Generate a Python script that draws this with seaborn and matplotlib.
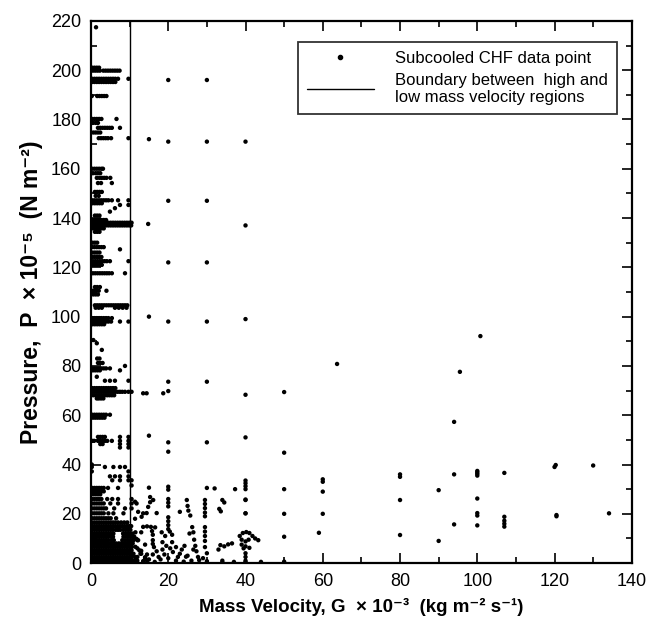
import matplotlib
matplotlib.use('Agg')
import matplotlib.pyplot as plt
import seaborn as sns
import pandas as pd
from matplotlib.lines import Line2D
from matplotlib.ticker import MultipleLocator

sns.set_theme(style='ticks')
plt.rcParams['font.family'] = ['Liberation Sans', 'DejaVu Sans']
plt.rcParams['text.color'] = 'black'
plt.rcParams['axes.labelcolor'] = 'black'

# low mass velocity strip, read row by row: (pressure, [mass velocities])
low_g_rows = [
    (217.4, [1.3]),
    (201.0, [0.3, 0.9, 1.5, 2.1]),
    (199.8, [0.5, 1.1, 1.7, 2.3, 3.2, 3.8, 4.4, 5.0, 5.6, 6.2, 6.8, 7.4]),
    (196.5, [0.3, 0.9, 1.5, 2.1, 2.7, 3.3, 3.9, 4.5, 5.1, 5.7, 6.3, 7.0, 9.7]),
    (195.2, [0.3, 0.9, 1.5, 2.1, 2.7, 3.3, 3.9, 4.5, 5.1, 5.7, 6.3]),
    (189.5, [0.2, 1.6, 2.2, 2.8, 3.4, 4.0]),
    (180.2, [0.3, 0.9, 1.5, 2.1, 2.7, 6.6]),
    (178.6, [0.5, 1.2, 1.8]),
    (176.6, [1.8, 2.4, 3.0, 3.6, 4.2, 4.8, 5.4, 7.5]),
    (174.7, [0.6, 1.2, 1.8, 2.4]),
    (172.4, [2.0, 2.6, 3.2, 3.8, 4.4, 5.2, 9.7]),
    (160.0, [0.3, 0.9, 1.5, 2.1, 2.7, 3.1]),
    (158.2, [0.5, 1.2, 1.8, 2.4]),
    (156.3, [1.5, 2.2, 2.8, 3.4, 4.0, 5.0]),
    (154.2, [1.8, 2.6, 5.4]),
    (150.6, [1.0, 1.6, 2.2, 2.8]),
    (149.0, [1.2, 2.0]),
    (147.2, [0.3, 0.9, 1.5, 2.1, 2.7, 3.3, 3.9, 4.5, 5.4, 7.0, 9.7]),
    (146.0, [0.4, 1.0, 1.6, 2.2, 2.8]),
    (145.3, [7.5, 9.7]),
    (144.0, [6.2]),
    (142.6, [4.9]),
    (141.0, [1.0, 1.6, 2.2]),
    (139.2, [0.3, 0.9, 1.5, 2.1, 2.7, 3.3, 3.9]),
    (138.1, [0.3, 0.9, 1.5, 2.1, 2.7, 3.3, 3.9, 4.5, 5.1, 5.7, 6.3, 6.9, 7.5, 8.1, 8.7, 9.3, 9.9, 10.5]),
    (137.0, [0.3, 0.9, 1.5, 2.1, 2.7, 3.3, 3.9, 4.5, 5.1, 5.7, 6.3, 6.9, 7.5, 8.1, 8.7, 9.3, 9.9, 10.4]),
    (135.8, [0.3, 0.9, 1.5, 2.1, 2.7, 3.3]),
    (134.4, [1.0, 1.6, 2.2]),
    (130.0, [0.4, 1.0, 1.6]),
    (128.2, [0.3, 0.9, 1.5, 2.1, 2.7, 3.3]),
    (127.3, [7.5]),
    (126.0, [0.4, 1.0, 1.6, 2.2]),
    (124.2, [0.3, 0.9, 1.5, 2.1, 2.7]),
    (122.5, [0.5, 1.1, 1.7, 2.3, 2.9, 3.5, 4.1, 4.9, 9.7]),
    (121.0, [0.4, 1.0, 1.6, 2.2, 2.8]),
    (117.6, [0.5, 1.1, 1.7, 2.3, 2.9, 3.5, 4.1, 4.7, 5.4, 8.8]),
    (112.0, [1.0, 1.6, 2.3]),
    (110.5, [0.3, 0.8, 1.4, 2.0, 4.0]),
    (109.0, [0.6, 1.2, 1.8]),
    (104.6, [1.0, 1.6, 2.2, 2.8, 3.4, 4.0, 4.6, 5.2, 5.8, 6.4, 7.0, 7.6, 8.2, 8.8, 9.4]),
    (103.6, [1.2, 2.0, 2.8, 6.2, 7.2, 8.2, 9.2]),
    (99.4, [0.3, 0.9, 1.5, 2.1, 2.7, 3.3, 3.9, 4.5, 5.4]),
    (98.0, [0.3, 0.9, 1.5, 2.1, 2.7, 3.3, 3.9, 4.5, 5.2, 7.5, 9.7]),
    (96.9, [0.4, 1.0, 1.6, 2.2, 2.8, 3.4]),
    (90.5, [0.6]),
    (89.2, [1.5]),
    (86.5, [2.8]),
    (83.0, [1.6, 2.2]),
    (81.2, [1.8, 2.4, 3.0]),
    (80.0, [8.8]),
    (79.0, [0.3, 0.9, 1.5, 2.1, 2.7, 3.3, 3.9, 4.9]),
    (78.2, [0.5, 1.1, 1.7, 2.3, 7.5]),
    (75.6, [1.5]),
    (74.0, [3.6, 4.9, 6.2, 9.7]),
    (71.0, [0.3, 0.9, 1.5, 2.1, 2.7, 3.3, 3.9, 4.5, 5.1, 5.7, 6.3]),
    (69.5, [0.3, 0.9, 1.5, 2.1, 2.7, 3.3, 3.9, 4.5, 5.1, 5.7, 6.3, 6.9, 7.5, 8.1, 8.8, 9.7, 10.5]),
    (68.1, [0.6, 1.2, 1.8, 2.4, 3.0, 3.6, 4.2, 4.8, 5.4, 6.0]),
    (66.8, [1.5, 2.0, 2.6, 3.2]),
    (60.2, [0.3, 0.9, 1.5, 2.1, 2.7, 3.3, 3.9, 4.9]),
    (59.0, [0.5, 1.1, 1.7, 2.3, 2.9, 3.5]),
    (51.2, [1.8, 2.4, 3.0, 3.6, 7.5, 9.7]),
    (49.6, [0.3, 0.8, 1.8, 2.4, 3.0, 3.6, 4.2, 5.4, 7.5, 9.7]),
    (48.3, [2.4, 3.0, 7.5, 9.7]),
    (46.9, [7.5, 9.7]),
    (40.0, [0.2]),
    (39.0, [0.2, 3.6, 5.8, 7.5, 8.8]),
    (37.2, [0.2, 9.7]),
    (35.2, [4.9, 6.2, 7.5, 9.7]),
    (33.6, [5.5, 7.5, 9.7, 10.5]),
    (31.5, [10.5]),
    (30.5, [0.3, 0.9, 1.5, 2.1, 2.7, 3.3, 4.4, 7.0]),
    (29.1, [0.3, 0.9, 1.5, 2.1, 2.7, 3.3]),
    (27.9, [0.6, 1.2, 1.8, 2.4]),
    (26.0, [0.3, 0.9, 1.5, 2.1, 2.7, 4.2, 5.5, 7.0, 10.5]),
    (24.2, [0.3, 0.9, 1.5, 2.1, 2.7, 3.3, 5.0, 7.0, 10.5]),
    (22.2, [0.3, 0.9, 1.5, 2.1, 2.7, 3.3, 3.9, 6.0, 8.8, 10.5]),
    (20.2, [0.3, 0.9, 1.5, 2.1, 2.7, 3.3, 4.5, 5.8, 8.4]),
    (18.2, [0.3, 0.9, 1.5, 2.1, 2.7, 3.3, 3.9, 4.5, 5.1, 6.5]),
    (16.5, [0.3, 0.9, 1.5, 2.1, 2.7, 3.3, 3.9, 4.5, 5.1, 5.7, 6.3, 7.0, 7.8, 8.6, 9.4]),
    (15.0, [0.3, 0.9, 1.5, 2.1, 2.7, 3.3, 3.9, 4.5, 5.1, 5.7, 6.3, 6.9, 7.5, 8.1, 8.7, 9.3, 9.9, 10.4]),
    (13.5, [0.3, 0.9, 1.5, 2.1, 2.7, 3.3, 3.9, 4.5, 5.1, 5.7, 6.4, 7.0, 7.6, 8.4, 9.0, 9.6, 10.2]),
    (12.0, [0.3, 0.9, 1.5, 2.1, 2.7, 3.3, 3.9, 4.5, 5.1, 5.8, 8.3, 9.0, 9.6, 10.2, 10.8]),
    (10.7, [0.3, 0.9, 1.5, 2.1, 2.7, 3.3, 3.9, 4.5, 5.2, 5.7, 8.4, 9.2, 9.8, 10.4, 11.2]),
    (9.3, [0.3, 0.9, 1.5, 2.1, 2.7, 3.3, 3.9, 4.5, 5.3, 5.9, 8.1, 8.8, 9.5, 10.2, 11.0, 12.0]),
    (8.0, [0.3, 0.9, 1.5, 2.1, 2.7, 3.3, 3.9, 4.5, 5.1, 5.8, 6.5, 7.2, 7.9, 8.6, 9.3, 10.0, 10.8]),
    (6.6, [0.3, 0.9, 1.5, 2.1, 2.7, 3.3, 3.9, 4.5, 5.1, 5.7, 6.3, 6.9, 7.5, 8.1, 8.7, 9.3, 9.9, 10.6, 11.5]),
    (5.2, [0.3, 0.9, 1.5, 2.1, 2.7, 3.3, 3.9, 4.5, 5.1, 5.7, 6.3, 6.9, 7.5, 8.1, 8.7, 9.3, 9.9, 10.5, 12.5]),
    (3.8, [0.3, 0.9, 1.5, 2.1, 2.7, 3.3, 3.9, 4.5, 5.1, 5.7, 6.3, 6.9, 7.5, 8.1, 8.7, 9.3, 9.9, 10.5, 11.0, 13.0]),
    (2.4, [0.3, 0.9, 1.5, 2.1, 2.7, 3.3, 3.9, 4.5, 5.1, 5.7, 6.3, 6.9, 7.5, 8.1, 8.7, 9.3, 9.9, 10.5, 11.5, 14.0]),
    (1.0, [0.3, 0.9, 1.5, 2.1, 2.7, 3.3, 3.9, 4.5, 5.1, 5.7, 6.3, 6.9, 7.5, 8.1, 8.7, 9.3, 9.9, 10.5, 11.2, 12.0, 14.5]),
]

# cloud just right of the boundary, low pressure: (G, P)
mid_points = [
    (11.4, 24.9), (12.2, 20.8), (13.1, 18.8), (11.8, 24.2), (13.5, 20.2), (11.4, 18.0),
    (15.0, 30.6), (15.3, 26.8), (15.3, 24.7), (16.1, 25.6), (14.4, 20.3), (17.0, 20.3), (14.8, 22.8),
    (20.0, 31.0), (20.0, 29.8), (20.0, 26.0), (20.0, 24.5), (20.0, 23.0), (23.0, 20.8),
    (24.8, 25.6), (25.0, 23.2), (25.2, 21.3), (25.7, 19.3),
    (29.5, 25.6), (29.5, 24.0), (29.5, 22.3), (29.5, 20.5), (29.5, 19.0),
    (30.0, 30.5), (32.0, 30.3), (37.3, 30.0), (40.0, 30.0), (40.0, 31.2), (40.0, 32.4), (40.0, 33.5),
    (34.0, 25.6), (34.5, 24.6), (33.6, 21.0), (33.2, 22.0), (40.0, 25.8), (40.0, 20.2),
    (13.5, 14.7), (14.5, 14.9), (15.5, 14.7), (16.6, 14.5), (15.8, 13.0), (16.0, 11.5),
    (16.0, 9.3), (16.0, 7.8), (16.3, 6.5),
    (20.0, 18.6), (20.0, 17.0), (20.0, 15.4), (20.0, 13.8), (18.3, 12.5), (19.2, 11.0),
    (21.0, 11.5), (20.4, 12.8), (18.5, 8.5), (19.5, 7.0), (20.5, 6.0), (21.2, 4.5),
    (19.0, 3.5), (20.0, 2.0), (18.0, 1.5), (22.0, 1.0), (23.5, 5.5), (24.2, 7.0),
    (23.0, 3.8), (24.6, 2.6), (21.0, 8.5), (22.0, 6.5), (22.5, 2.5), (25.0, 3.0),
    (25.5, 12.0), (26.2, 14.6), (26.5, 12.5), (26.7, 9.5), (27.0, 7.0), (27.3, 4.8),
    (27.7, 2.5), (26.0, 1.0), (28.0, 1.2), (26.5, 5.5),
    (29.5, 14.6), (29.5, 12.8), (29.5, 11.0), (29.5, 9.0), (29.5, 6.5), (30.0, 4.0),
    (29.0, 2.0), (30.0, 0.8),
    (11.0, 10.5), (11.8, 9.8), (12.2, 9.3), (10.5, 8.0), (12.0, 6.0), (13.0, 5.0),
    (14.0, 7.5), (14.5, 3.5), (12.0, 2.5), (11.0, 1.0), (13.5, 0.8), (15.0, 1.5),
    (16.5, 0.5), (17.5, 2.5), (24.0, 0.6), (13.0, 12.5), (11.5, 12.5),
    (10.8, 3.0), (12.8, 3.8), (14.0, 2.0), (16.0, 3.5), (17.0, 4.8), (18.5, 5.5),
    (33.0, 5.5), (33.5, 7.3), (34.5, 6.8), (35.5, 7.6), (36.5, 8.0), (34.0, 1.0), (34.0, 0.3),
    (38.5, 11.0), (39.3, 12.2), (40.2, 12.6), (41.0, 12.2), (41.8, 11.0), (39.0, 9.5),
    (40.0, 8.8), (40.8, 9.5), (42.5, 10.0), (43.3, 9.3), (39.0, 7.5), (40.0, 6.8),
    (41.0, 6.2), (39.5, 6.0), (40.0, 4.0), (40.0, 2.5), (40.0, 1.0), (40.0, 0.4),
    (37.0, 0.5), (44.0, 0.5), (50.0, 0.6),
]

# sparse points at higher mass velocity / pressure: (G, P)
high_points = [
    (20, 196), (30, 196), (15, 172), (20, 171), (30, 171), (40, 171),
    (20, 147), (30, 147), (40, 137), (14.8, 137.6), (20, 122), (30, 122),
    (15, 100), (20, 98), (30, 98), (40, 99),
    (20, 73.6), (30, 73.6), (20, 69.8), (18.7, 68.9), (13.5, 68.9), (14.4, 68.9),
    (40, 68.3), (50, 69.4), (63.7, 80.8), (95.5, 77.6), (100.8, 92.1), (94, 57.3),
    (15, 51.7), (20, 49), (20, 45.2), (30, 49), (40, 51), (50, 44.8),
    (60, 34.0), (60, 33.0), (60, 29.0), (60, 20.0), (59, 12.3),
    (80, 36.0), (80, 35.0), (80, 25.6), (80, 11.4), (90, 29.6), (90, 9.0),
    (94, 36.0), (94, 15.7), (100, 37.4), (100, 36.8), (100, 36.2), (100, 35.5),
    (100, 26.2), (100, 20.3), (100, 19.3), (100, 15.3),
    (107, 36.6), (107, 18.8), (107, 17.2), (107, 16.0), (107, 14.8),
    (120.3, 39.8), (120, 39.0), (120.5, 19.5), (120.5, 19.0), (130, 39.6), (134.1, 20.2),
    (50, 30), (50, 20), (50, 10.7), (40, 25.6), (40, 20.2),
]

boundary_g = 10

g_vals = [g for p, gs in low_g_rows for g in gs]
p_vals = [p for p, gs in low_g_rows for g in gs]
g_vals += [g for g, p in mid_points + high_points]
p_vals += [p for g, p in mid_points + high_points]
df = pd.DataFrame({'G': g_vals, 'P': p_vals})

fig, ax = plt.subplots(figsize=(6.5, 6.32), dpi=100)
fig.subplots_adjust(left=0.14, right=0.972, bottom=0.109, top=0.967)

sns.scatterplot(data=df, x='G', y='P', color='black', s=10, edgecolor='none',
                linewidth=0, ax=ax, legend=False)
ax.axvline(boundary_g, color='black', lw=1.0)

ax.set_xlim(0, 140)
ax.set_ylim(0, 220)
ax.xaxis.set_major_locator(MultipleLocator(20))
ax.xaxis.set_minor_locator(MultipleLocator(10))
ax.yaxis.set_major_locator(MultipleLocator(20))
ax.yaxis.set_minor_locator(MultipleLocator(10))
ax.tick_params(which='both', direction='in', top=True, right=True, colors='black',
               labelsize=13, width=1.2)
ax.tick_params(which='major', length=7, pad=7)
ax.tick_params(which='minor', length=4)
for sp in ax.spines.values():
    sp.set_linewidth(1.6)
    sp.set_color('black')

ax.set_xlabel('Mass Velocity, G  × 10⁻³  (kg m⁻² s⁻¹)', fontsize=13.5,
              fontweight='bold', labelpad=6)
ax.set_ylabel('Pressure,  P  × 10⁻⁵  (N m⁻²)', fontsize=16.5,
              fontweight='bold', labelpad=6)

handles = [
    Line2D([], [], marker='o', color='black', linestyle='none', markersize=3),
    Line2D([], [], color='black', lw=1.0),
]
labels = ['Subcooled CHF data point',
          'Boundary between  high and\nlow mass velocity regions']
leg = ax.legend(handles, labels, loc='upper right', bbox_to_anchor=(0.972, 0.961),
                borderaxespad=0, fancybox=False, frameon=True, fontsize=12,
                handlelength=4.0, handletextpad=1.25, borderpad=0.55,
                labelspacing=0.4)
leg.get_frame().set_edgecolor('black')
leg.get_frame().set_linewidth(1.3)

plt.savefig('out.png', dpi=100)
plt.close()
